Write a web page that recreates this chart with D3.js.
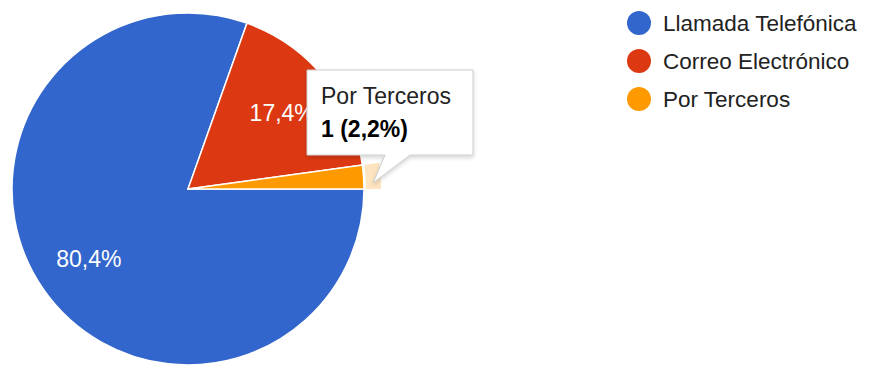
<!DOCTYPE html>
<html>
<head>
<meta charset="utf-8">
<script src="https://cdn.jsdelivr.net/npm/d3@7/dist/d3.min.js"></script>
<style>
  html, body { margin: 0; padding: 0; background: #fff; }
  svg { display: block; font-family: "Liberation Sans", Arial, sans-serif; }
</style>
</head>
<body>
<svg id="chart" width="871" height="365"></svg>
<script>
// Contact channels and response counts
const categories = ["Llamada Telefónica", "Correo Electrónico", "Por Terceros"];
const values = [37, 8, 1];
const colors = ["#3366cc", "#dc3912", "#ff9900"];
const highlighted = 2; // slice shown with its tooltip

const W = 871, H = 365;
const cx = 188, cy = 189, R = 176;
const total = d3.sum(values);
const fmtPct = v => (v / total * 100).toFixed(1).replace(".", ",") + "%";

const svg = d3.select("#chart");

const pie = d3.pie()
  .sort(null)
  .value(d => d)
  .startAngle(Math.PI / 2)
  .endAngle(Math.PI / 2 + 2 * Math.PI);

const arcs = pie(values);
const arc = d3.arc().innerRadius(0).outerRadius(R);
const labelArc = d3.arc().innerRadius(R * 0.69).outerRadius(R * 0.69);
const ringArc = d3.arc().innerRadius(R + 2).outerRadius(R + 17);

const g = svg.append("g").attr("transform", `translate(${cx},${cy})`);

g.selectAll("path.slice")
  .data(arcs)
  .join("path")
  .attr("class", "slice")
  .attr("d", arc)
  .attr("fill", (d, i) => colors[i])
  .attr("stroke", "#fff")
  .attr("stroke-width", 1.5);

// hover ring around the highlighted slice
g.append("path")
  .attr("d", ringArc(arcs[highlighted]))
  .attr("fill", colors[highlighted])
  .attr("fill-opacity", 0.25);

// percentage labels on slices large enough to hold them
g.selectAll("text.pct")
  .data(arcs.filter(d => (d.endAngle - d.startAngle) > 0.3))
  .join("text")
  .attr("class", "pct")
  .attr("transform", d => `translate(${labelArc.centroid(d)})`)
  .attr("text-anchor", "middle")
  .attr("dy", "0.36em")
  .attr("fill", "#fff")
  .attr("font-size", 23)
  .text(d => fmtPct(d.value));

// legend
const legend = svg.append("g").attr("transform", "translate(639,23)");
const rows = legend.selectAll("g")
  .data(categories)
  .join("g")
  .attr("transform", (d, i) => `translate(0,${i * 38})`);
rows.append("circle").attr("r", 12).attr("fill", (d, i) => colors[i]);
rows.append("text")
  .attr("x", 24)
  .attr("dy", "0.36em")
  .attr("font-size", 22.5)
  .attr("fill", "#222")
  .text(d => d);

// tooltip
const tip = svg.append("g");
const bx = 307, by = 70, bw = 166, bh = 85;
const defs = svg.append("defs");
const f = defs.append("filter").attr("id", "shadow").attr("x", "-20%").attr("y", "-20%").attr("width", "140%").attr("height", "150%");
f.append("feDropShadow").attr("dx", 0).attr("dy", 2).attr("stdDeviation", 2).attr("flood-color", "#000").attr("flood-opacity", 0.18);

tip.append("path")
  .attr("d", `M${bx},${by}H${bx + bw}V${by + bh}H${bx + 103}L${373},${183}L${bx + 78},${by + bh}H${bx}Z`)
  .attr("fill", "#fff")
  .attr("stroke", "#ccc")
  .attr("stroke-width", 1)
  .attr("filter", "url(#shadow)");

tip.append("text")
  .attr("x", bx + 14).attr("y", by + 34)
  .attr("font-size", 23).attr("fill", "#222")
  .text(categories[highlighted]);
tip.append("text")
  .attr("x", bx + 14).attr("y", by + 67)
  .attr("font-size", 23).attr("font-weight", "bold").attr("fill", "#000")
  .text(`${values[highlighted]} (${fmtPct(values[highlighted])})`);
</script>
</body>
</html>
